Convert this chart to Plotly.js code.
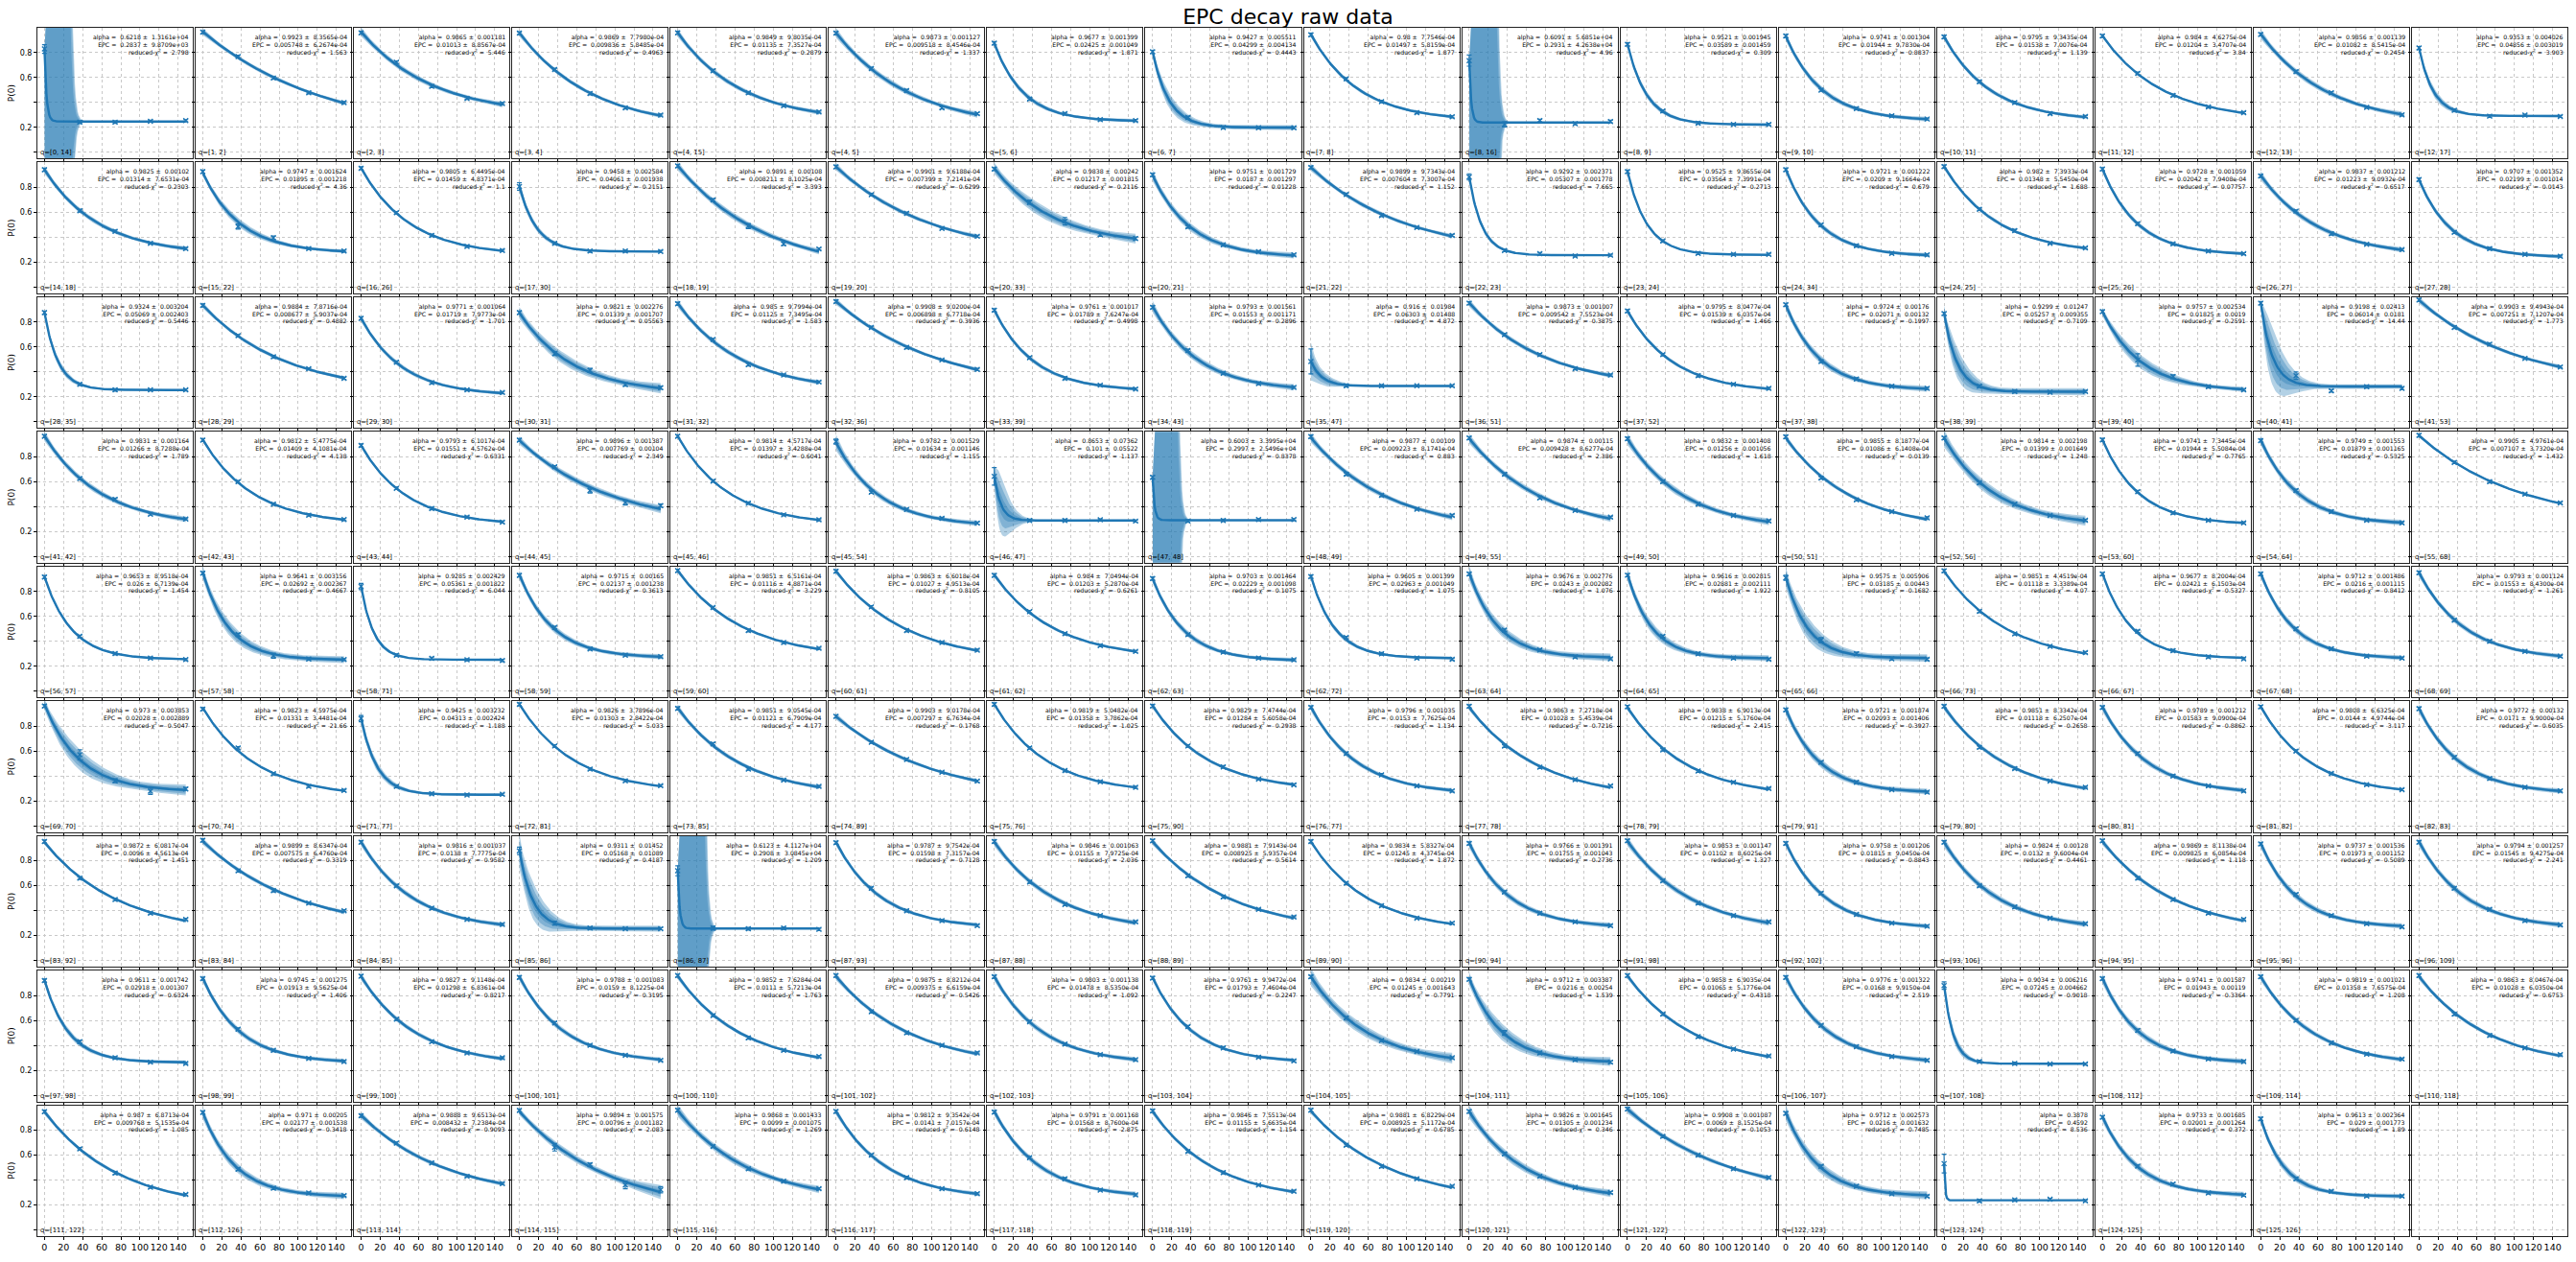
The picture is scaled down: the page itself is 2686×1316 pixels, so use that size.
<!DOCTYPE html>
<html>
<head>
<meta charset="utf-8">
<script src="https://cdn.plot.ly/plotly-3.0.1.min.js"></script>
<style>
  body { margin: 0; background: #fff; }
  #chart { width: 2686px; height: 1316px; }
</style>
</head>
<body>
<div id="chart"></div>
<script>
// --- data, one entry per panel (16 x 9 grid, last one empty) ---
const qLabels = [
  '[0, 14]','[1, 2]','[2, 3]','[3, 4]','[4, 15]','[4, 5]','[5, 6]','[6, 7]','[7, 8]','[8, 16]','[8, 9]','[9, 10]','[10, 11]','[11, 12]','[12, 13]','[12, 17]',
  '[14, 18]','[15, 22]','[16, 26]','[17, 30]','[18, 19]','[19, 20]','[20, 33]','[20, 21]','[21, 22]','[22, 23]','[23, 24]','[24, 34]','[24, 25]','[25, 26]','[26, 27]','[27, 28]',
  '[28, 35]','[28, 29]','[29, 30]','[30, 31]','[31, 32]','[32, 36]','[33, 39]','[34, 43]','[35, 47]','[36, 51]','[37, 52]','[37, 38]','[38, 39]','[39, 40]','[40, 41]','[41, 53]',
  '[41, 42]','[42, 43]','[43, 44]','[44, 45]','[45, 46]','[45, 54]','[46, 47]','[47, 48]','[48, 49]','[49, 55]','[49, 50]','[50, 51]','[52, 56]','[53, 60]','[54, 64]','[55, 68]',
  '[56, 57]','[57, 58]','[58, 71]','[58, 59]','[59, 60]','[60, 61]','[61, 62]','[62, 63]','[62, 72]','[63, 64]','[64, 65]','[65, 66]','[66, 73]','[66, 67]','[67, 68]','[68, 69]',
  '[69, 70]','[70, 74]','[71, 77]','[72, 81]','[73, 85]','[74, 89]','[75, 76]','[75, 90]','[76, 77]','[77, 78]','[78, 79]','[79, 91]','[79, 80]','[80, 81]','[81, 82]','[82, 83]',
  '[83, 92]','[83, 84]','[84, 85]','[85, 86]','[86, 87]','[87, 93]','[87, 88]','[88, 89]','[89, 90]','[90, 94]','[91, 98]','[92, 102]','[93, 106]','[94, 95]','[95, 96]','[96, 109]',
  '[97, 98]','[98, 99]','[99, 100]','[100, 101]','[100, 110]','[101, 102]','[102, 103]','[103, 104]','[104, 105]','[104, 111]','[105, 106]','[106, 107]','[107, 108]','[108, 112]','[109, 114]','[110, 118]',
  '[111, 122]','[112, 126]','[113, 114]','[114, 115]','[115, 116]','[116, 117]','[117, 118]','[118, 119]','[119, 120]','[120, 121]','[121, 122]','[122, 123]','[123, 124]','[124, 125]','[125, 126]',''
];

const alphaTxt = [
  '0.6218','0.9923','0.9865','0.9869','0.9849','0.9873','0.9677','0.9427','0.98','0.6091','0.9521','0.9741','0.9795','0.984','0.9856','0.9353',
  '0.9825','0.9747','0.9805','0.9458','0.9891','0.9901','0.9838','0.9751','0.9899','0.9292','0.9525','0.9721','0.982','0.9728','0.9837','0.9707',
  '0.9324','0.9884','0.9771','0.9821','0.985','0.9908','0.9761','0.9793','0.916','0.9873','0.9795','0.9724','0.9299','0.9757','0.9198','0.9903',
  '0.9831','0.9812','0.9793','0.9896','0.9814','0.9782','0.8653','0.6003','0.9877','0.9874','0.9832','0.9855','0.9814','0.9741','0.9749','0.9905',
  '0.9653','0.9641','0.9285','0.9715','0.9851','0.9863','0.984','0.9703','0.9605','0.9676','0.9616','0.9575','0.9851','0.9677','0.9712','0.9793',
  '0.973','0.9823','0.9425','0.9826','0.9851','0.9903','0.9819','0.9829','0.9796','0.9863','0.9838','0.9721','0.9851','0.9789','0.9808','0.9772',
  '0.9872','0.9899','0.9816','0.9311','0.6123','0.9787','0.9846','0.9881','0.9834','0.9766','0.9853','0.9758','0.9824','0.9869','0.9737','0.9794',
  '0.9611','0.9745','0.9827','0.9788','0.9852','0.9875','0.9803','0.9761','0.9834','0.9712','0.9858','0.9776','0.9034','0.9741','0.9819','0.9863',
  '0.987','0.971','0.9888','0.9894','0.9868','0.9812','0.9791','0.9846','0.9881','0.9826','0.9908','0.9712','0.3878','0.9733','0.9613',''
];

const alphaErrTxt = [
  '1.3161e+04','8.3565e-04','0.001181','7.7980e-04','9.8035e-04','0.001127','0.001399','0.005511','7.7546e-04','5.6851e+04','0.001945','0.001304','9.3435e-04','4.6275e-04','0.001139','0.004026',
  '0.00102','0.001624','6.4495e-04','0.002584','0.00108','9.6188e-04','0.00242','0.001729','9.7343e-04','0.002371','9.8655e-04','0.001222','7.3933e-04','0.001059','0.001212','0.001352',
  '0.003204','7.8716e-04','0.001064','0.002276','9.7994e-04','9.0200e-04','0.001017','0.001561','0.01984','0.001007','8.0477e-04','0.00176','0.01247','0.002534','0.02413','9.4943e-04',
  '0.001164','5.4775e-04','6.1017e-04','0.001387','4.5717e-04','0.001529','0.07362','3.3995e+04','0.00109','0.00115','0.001408','8.1877e-04','0.002198','7.3445e-04','0.001553','4.9761e-04',
  '8.9518e-04','0.003156','0.002429','0.00165','6.5161e-04','6.6018e-04','7.0494e-04','0.001464','0.001399','0.002776','0.002815','0.005906','4.4519e-04','8.2004e-04','0.001486','0.001124',
  '0.003853','4.5975e-04','0.003232','3.7896e-04','9.0545e-04','9.0178e-04','5.0482e-04','7.4744e-04','0.001035','7.2718e-04','6.9013e-04','0.001874','8.3342e-04','0.001212','6.6325e-04','0.00132',
  '6.0817e-04','8.6347e-04','0.001037','0.01452','4.1127e+04','9.7542e-04','0.001063','7.9143e-04','5.8327e-04','0.001391','0.001147','0.001206','0.00128','8.1138e-04','0.001536','0.001257',
  '0.001742','0.001275','9.1148e-04','0.001083','7.6284e-04','8.8212e-04','0.001138','9.9472e-04','0.00219','0.003387','6.9035e-04','0.001322','0.006216','0.001587','0.001021','8.0467e-04',
  '6.8713e-04','0.00205','9.6513e-04','0.001575','0.001433','9.3542e-04','0.001168','7.5513e-04','6.8229e-04','0.001645','0.001087','0.002573','','0.001685','0.002364',''
];

const epcTxt = [
  '0.2837','0.005748','0.01013','0.009836','0.01135','0.009518','0.02425','0.04299','0.01497','0.2931','0.03589','0.01944','0.01538','0.01204','0.01082','0.04856',
  '0.01314','0.01895','0.01459','0.04061','0.008211','0.007399','0.01217','0.0187','0.007604','0.05307','0.03564','0.0209','0.01348','0.02042','0.01223','0.02199',
  '0.05069','0.008677','0.01719','0.01339','0.01125','0.006898','0.01789','0.01553','0.06303','0.009542','0.01539','0.02071','0.05257','0.01825','0.06014','0.007251',
  '0.01266','0.01409','0.01551','0.007769','0.01397','0.01634','0.101','0.2997','0.009223','0.009428','0.01256','0.01086','0.01399','0.01944','0.01879','0.007107',
  '0.026','0.02692','0.05361','0.02137','0.01116','0.01027','0.01203','0.02229','0.02963','0.0243','0.02881','0.03185','0.01118','0.02421','0.0216','0.01553',
  '0.02028','0.01331','0.04313','0.01303','0.01121','0.007297','0.01358','0.01284','0.0153','0.01028','0.01215','0.02093','0.01118','0.01583','0.0144','0.0171',
  '0.0096','0.007575','0.0138','0.05168','0.2908','0.01598','0.01155','0.008925','0.01245','0.01755','0.01102','0.01815','0.0132','0.009825','0.01973','0.01545',
  '0.02918','0.01913','0.01298','0.0159','0.0111','0.009375','0.01478','0.01793','0.01245','0.0216','0.01065','0.0168','0.07245','0.01943','0.01358','0.01028',
  '0.009768','0.02177','0.008432','0.00796','0.0099','0.0141','0.01568','0.01155','0.008925','0.01305','0.0069','0.0216','0.4592','0.02001','0.029',''
];

const epcErrTxt = [
  '9.8709e+03','6.2674e-04','8.8567e-04','5.8485e-04','7.3527e-04','8.4546e-04','0.001049','0.004134','5.8159e-04','4.2638e+04','0.001459','9.7830e-04','7.0076e-04','3.4707e-04','8.5415e-04','0.003019',
  '7.6531e-04','0.001218','4.8371e-04','0.001938','8.1025e-04','7.2141e-04','0.001815','0.001297','7.3007e-04','0.001778','7.3991e-04','9.1664e-04','5.5450e-04','7.9408e-04','9.0932e-04','0.001014',
  '0.002403','5.9037e-04','7.9773e-04','0.001707','7.3495e-04','6.7718e-04','7.6247e-04','0.001171','0.01488','7.5523e-04','6.0357e-04','0.00132','0.009355','0.0019','0.0181','7.1207e-04',
  '8.7288e-04','4.1081e-04','4.5762e-04','0.00104','3.4288e-04','0.001146','0.05522','2.5496e+04','8.1741e-04','8.6277e-04','0.001056','6.1408e-04','0.001649','5.5084e-04','0.001165','3.7320e-04',
  '6.7139e-04','0.002367','0.001822','0.001238','4.8871e-04','4.9513e-04','5.2870e-04','0.001098','0.001049','0.002082','0.002111','0.00443','3.3389e-04','6.1503e-04','0.001115','8.4300e-04',
  '0.002889','3.4481e-04','0.002424','2.8422e-04','6.7909e-04','6.7634e-04','3.7862e-04','5.6058e-04','7.7625e-04','5.4539e-04','5.1760e-04','0.001406','6.2507e-04','9.0900e-04','4.9744e-04','9.9000e-04',
  '4.5613e-04','6.4760e-04','7.7775e-04','0.01089','3.0845e+04','7.3157e-04','7.9725e-04','5.9357e-04','4.3745e-04','0.001043','8.6025e-04','9.0450e-04','9.6004e-04','6.0854e-04','0.001152','9.4275e-04',
  '0.001307','9.5625e-04','6.8361e-04','8.1225e-04','5.7213e-04','6.6159e-04','8.5350e-04','7.4604e-04','0.001643','0.00254','5.1776e-04','9.9150e-04','0.004662','0.00119','7.6575e-04','6.0350e-04',
  '5.1535e-04','0.001538','7.2384e-04','0.001182','0.001075','7.0157e-04','8.7600e-04','5.6635e-04','5.1172e-04','0.001234','8.1525e-04','0.001632','','0.001264','0.001773',''
];

const chi2Txt = [
  '2.798','1.563','5.446','0.4963','0.2879','1.337','1.871','0.4443','1.877','4.96','0.309','0.8837','1.139','3.84','0.2454','3.903',
  '0.2303','4.36','1.1','0.2151','3.393','0.6299','0.2116','0.01228','1.152','7.665','0.2713','0.679','1.688','0.07757','0.6517','0.0143',
  '0.5446','0.4882','1.701','0.05563','1.583','0.3936','0.4998','0.2896','4.872','0.3875','1.466','0.1997','0.7109','0.2591','14.44','1.773',
  '1.789','4.138','0.6331','2.349','0.6041','1.155','1.137','0.8378','0.883','2.386','1.618','0.0139','1.248','0.7765','0.5325','1.432',
  '1.454','0.4667','6.044','0.3613','3.229','0.8105','0.6261','0.1075','1.075','1.076','1.922','0.1682','4.07','0.5327','0.8412','1.261',
  '0.5047','21.66','1.188','5.033','4.177','0.1768','1.025','0.2938','1.134','0.7216','2.415','0.3927','0.2658','0.8862','3.117','0.6035',
  '1.451','0.3319','0.9582','0.4187','1.209','0.7128','2.036','0.5614','1.872','0.2736','1.327','0.8843','0.4461','1.118','0.5089','2.241',
  '0.6324','1.406','0.8217','0.3195','1.763','0.5426','1.092','0.2247','0.7791','1.539','0.4318','2.519','0.9018','0.3364','1.208','0.6753',
  '1.085','0.3418','0.9093','2.083','1.269','0.6148','2.875','1.154','0.6785','0.346','0.1053','0.7485','8.536','0.372','1.89',''
];

// sequence lengths of the raw data and the P(0) values read at each of them
const seqLengths = [0, 37, 74, 111, 148];
const pointY = [
  [0.83,0.243,0.243,0.25,0.255],[0.965,0.77,0.597,0.478,0.40],[0.96,0.724,0.53,0.433,0.392],[0.957,0.666,0.473,0.357,0.30],
  [0.96,0.656,0.478,0.375,0.324],[0.957,0.673,0.496,0.357,0.311],[0.876,0.428,0.311,0.263,0.256],[0.807,0.281,0.20,0.197,0.197],
  [0.944,0.59,0.408,0.319,0.286],[0.737,0.225,0.256,0.23,0.248],[0.868,0.332,0.235,0.225,0.225],[0.934,0.50,0.352,0.294,0.268],
  [0.927,0.567,0.40,0.311,0.289],[0.934,0.635,0.458,0.365,0.319],[0.947,0.648,0.478,0.362,0.301],[0.838,0.339,0.291,0.299,0.289],

  [0.942,0.613,0.448,0.352,0.309],[0.927,0.486,0.395,0.309,0.289],[0.954,0.597,0.415,0.327,0.294],[0.808,0.352,0.289,0.289,0.286],
  [0.972,0.70,0.49,0.347,0.306],[0.965,0.742,0.592,0.471,0.408],[0.947,0.681,0.529,0.42,0.39],[0.901,0.484,0.339,0.284,0.258],
  [0.96,0.744,0.575,0.478,0.415],[0.884,0.294,0.268,0.25,0.256],[0.927,0.37,0.271,0.263,0.263],[0.942,0.499,0.332,0.271,0.258],
  [0.967,0.625,0.453,0.352,0.314],[0.947,0.509,0.347,0.289,0.268],[0.891,0.61,0.428,0.344,0.301],[0.863,0.44,0.309,0.263,0.248],

  [0.876,0.301,0.256,0.256,0.256],[0.934,0.691,0.522,0.425,0.349],[0.83,0.478,0.314,0.256,0.235],[0.876,0.547,0.413,0.299,0.273],
  [0.947,0.66,0.458,0.375,0.319],[0.965,0.757,0.597,0.496,0.42],[0.896,0.514,0.349,0.294,0.263],[0.919,0.572,0.39,0.306,0.276],
  [0.484,0.289,0.289,0.289,0.289],[0.952,0.699,0.539,0.425,0.375],[0.889,0.539,0.37,0.301,0.268],[0.939,0.484,0.344,0.286,0.268],
  [0.868,0.286,0.243,0.238,0.243],[0.884,0.496,0.362,0.281,0.256],[0.952,0.37,0.248,0.281,0.268],[0.977,0.757,0.623,0.509,0.44],

  [0.965,0.625,0.458,0.339,0.301],[0.934,0.60,0.42,0.332,0.296],[0.891,0.547,0.385,0.316,0.276],[0.934,0.719,0.529,0.433,0.408],
  [0.965,0.605,0.428,0.334,0.294],[0.922,0.516,0.377,0.306,0.268],[0.643,0.289,0.289,0.294,0.284],[0.635,0.284,0.289,0.296,0.296],
  [0.962,0.66,0.49,0.38,0.33],[0.95,0.66,0.47,0.37,0.315],[0.945,0.60,0.42,0.33,0.285],[0.96,0.63,0.455,0.36,0.31],
  [0.95,0.59,0.42,0.33,0.29],[0.935,0.52,0.35,0.29,0.27],[0.93,0.53,0.36,0.29,0.27],[0.972,0.755,0.60,0.50,0.43],

  [0.916,0.44,0.301,0.266,0.253],[0.947,0.453,0.284,0.258,0.253],[0.84,0.289,0.263,0.251,0.246],[0.929,0.511,0.339,0.289,0.276],
  [0.967,0.671,0.486,0.39,0.344],[0.962,0.676,0.486,0.39,0.329],[0.929,0.638,0.461,0.365,0.319],[0.904,0.453,0.314,0.266,0.251],
  [0.92,0.43,0.30,0.265,0.255],[0.94,0.49,0.33,0.275,0.26],[0.93,0.44,0.30,0.265,0.255],[0.91,0.41,0.30,0.26,0.255],
  [0.965,0.64,0.46,0.36,0.31],[0.94,0.48,0.325,0.275,0.26],[0.94,0.50,0.34,0.28,0.265],[0.95,0.57,0.40,0.32,0.28],

  [0.962,0.57,0.362,0.278,0.296],[0.937,0.625,0.418,0.316,0.284],[0.861,0.316,0.258,0.248,0.253],[0.975,0.641,0.456,0.362,0.322],
  [0.942,0.658,0.456,0.367,0.316],[0.878,0.671,0.532,0.43,0.359],[0.975,0.625,0.443,0.354,0.309],[0.962,0.641,0.473,0.375,0.329],
  [0.95,0.58,0.41,0.32,0.28],[0.96,0.64,0.47,0.37,0.32],[0.955,0.61,0.44,0.35,0.30],[0.93,0.51,0.35,0.29,0.27],
  [0.96,0.63,0.46,0.36,0.31],[0.95,0.58,0.40,0.32,0.28],[0.955,0.60,0.42,0.33,0.29],[0.94,0.55,0.38,0.31,0.28],

  [0.955,0.66,0.49,0.38,0.33],[0.965,0.72,0.56,0.46,0.40],[0.95,0.60,0.42,0.33,0.29],[0.88,0.30,0.26,0.255,0.255],
  [0.72,0.26,0.255,0.26,0.25],[0.945,0.58,0.40,0.32,0.28],[0.955,0.63,0.45,0.36,0.31],[0.96,0.68,0.51,0.41,0.35],
  [0.955,0.62,0.44,0.34,0.30],[0.94,0.55,0.38,0.31,0.28],[0.96,0.64,0.46,0.36,0.31],[0.94,0.54,0.37,0.30,0.275],
  [0.95,0.60,0.43,0.34,0.295],[0.96,0.66,0.49,0.38,0.33],[0.935,0.53,0.36,0.295,0.27],[0.95,0.58,0.41,0.32,0.285],

  [0.92,0.43,0.30,0.265,0.255],[0.935,0.53,0.36,0.295,0.27],[0.955,0.61,0.43,0.34,0.30],[0.945,0.58,0.40,0.32,0.28],
  [0.96,0.64,0.46,0.36,0.31],[0.96,0.67,0.50,0.40,0.34],[0.95,0.59,0.41,0.325,0.285],[0.94,0.55,0.38,0.305,0.275],
  [0.95,0.62,0.44,0.35,0.30],[0.93,0.50,0.34,0.285,0.265],[0.96,0.65,0.47,0.37,0.315],[0.945,0.56,0.39,0.31,0.28],
  [0.88,0.27,0.255,0.25,0.25],[0.935,0.52,0.355,0.29,0.27],[0.95,0.60,0.42,0.33,0.29],[0.96,0.65,0.48,0.38,0.325],

  [0.949,0.651,0.456,0.342,0.284],[0.942,0.486,0.334,0.296,0.276],[0.916,0.696,0.537,0.43,0.372],[0.959,0.663,0.524,0.36,0.322],
  [0.96,0.67,0.49,0.39,0.33],[0.95,0.60,0.42,0.33,0.29],[0.945,0.58,0.41,0.32,0.28],[0.955,0.63,0.46,0.36,0.31],
  [0.96,0.68,0.51,0.41,0.35],[0.95,0.61,0.43,0.34,0.30],[0.97,0.75,0.60,0.49,0.42],[0.935,0.51,0.35,0.29,0.27],
  [0.532,0.233,0.24,0.246,0.233],[0.904,0.511,0.367,0.296,0.278],[0.891,0.41,0.309,0.271,0.271],null
];

// error bars: a common size, and the panels where they are visibly larger
const errCommon = [0.012, 0.01, 0.01, 0.008, 0.008];
const errLarge = {
  '[0, 14]': [0.035,0.01,0.01,0.008,0.008], '[8, 16]': [0.045,0.02,0.01,0.008,0.01],
  '[15, 22]': [0.012,0.02,0.015,0.008,0.008], '[17, 30]': [0.03,0.01,0.01,0.008,0.008],
  '[18, 19]': [0.012,0.01,0.02,0.012,0.008], '[20, 33]': [0.012,0.015,0.03,0.012,0.012],
  '[22, 23]': [0.025,0.01,0.01,0.008,0.008], '[30, 31]': [0.012,0.015,0.015,0.012,0.012],
  '[35, 47]': [0.1,0.01,0.01,0.008,0.008], '[39, 40]': [0.012,0.05,0.015,0.01,0.008],
  '[40, 41]': [0.012,0.03,0.01,0.01,0.01], '[44, 45]': [0.012,0.01,0.02,0.02,0.012],
  '[45, 54]': [0.02,0.01,0.01,0.008,0.008], '[46, 47]': [0.07,0.01,0.01,0.008,0.008],
  '[57, 58]': [0.012,0.012,0.02,0.008,0.008], '[58, 71]': [0.025,0.01,0.01,0.008,0.008],
  '[65, 66]': [0.02,0.02,0.012,0.01,0.01], '[69, 70]': [0.012,0.04,0.015,0.025,0.012],
  '[71, 77]': [0.025,0.01,0.01,0.008,0.008], '[85, 86]': [0.03,0.015,0.01,0.008,0.008],
  '[86, 87]': [0.04,0.015,0.01,0.01,0.01], '[104, 111]': [0.012,0.02,0.012,0.01,0.01],
  '[107, 108]': [0.03,0.01,0.01,0.008,0.008],
  '[114, 115]': [0.012,0.03,0.012,0.03,0.025], '[123, 124]': [0.075,0.01,0.01,0.008,0.008]
};

// --- figure geometry ---
const nCols = 16, nRows = 9;
const figW = 2686, figH = 1316;
const mL = 39, mR = 9, mT = 29, mB = 27;
const plotW = figW - mL - mR, plotH = figH - mT - mB;
const gapX = 3, gapY = 4;
const cellW = (plotW + gapX) / nCols, cellH = (plotH + gapY) / nRows;

const blue = '#1f77b4';
const band = 'rgba(31,119,180,0.34)';
const font = 'DejaVu Sans';

const tFit = [];
for (let t = 0; t <= seqLengths[seqLengths.length - 1]; t += 1) tFit.push(t);

// least squares for A and B in P = A*alpha^t + B, alpha taken from the panel text
function fitAB(alpha, ys) {
  const u = seqLengths.map(t => Math.pow(alpha, t));
  const n = u.length;
  let su = 0, suu = 0, sy = 0, suy = 0;
  for (let i = 0; i < n; i++) { su += u[i]; suu += u[i] * u[i]; sy += ys[i]; suy += u[i] * ys[i]; }
  const A = (n * suy - su * sy) / (n * suu - su * su);
  return { A: A, B: (sy - A * su) / n };
}

function inv3(m) {
  const [a, b, c] = m[0], [d, e, f] = m[1], [g, h, k] = m[2];
  const det = a * (e * k - f * h) - b * (d * k - f * g) + c * (d * h - e * g);
  if (!isFinite(det) || Math.abs(det) < 1e-300) return null;
  return [
    [(e * k - f * h) / det, (c * h - b * k) / det, (b * f - c * e) / det],
    [(f * g - d * k) / det, (a * k - c * g) / det, (c * d - a * f) / det],
    [(d * h - e * g) / det, (b * g - a * h) / det, (a * e - b * d) / det]
  ];
}

// 1-sigma width of the fit along t; covariance of (A, alpha, B) scaled to the quoted alpha error
function fitSigma(alpha, sAlpha, A, errs) {
  const grad = t => [Math.pow(alpha, t), A * t * Math.pow(alpha, t - 1), 1];
  const alphaOnly = tFit.map(t => Math.abs(A * t * Math.pow(alpha, t - 1)) * sAlpha);
  if (sAlpha > 1) return alphaOnly;
  const M = [[0, 0, 0], [0, 0, 0], [0, 0, 0]];
  seqLengths.forEach((t, i) => {
    const g = grad(t), w = 1 / (errs[i] * errs[i]);
    for (let p = 0; p < 3; p++) for (let q = 0; q < 3; q++) M[p][q] += w * g[p] * g[q];
  });
  const C = inv3(M);
  if (!C || !(C[1][1] > 0)) return alphaOnly;
  const s = sAlpha * sAlpha / C[1][1];
  return tFit.map(t => {
    const g = grad(t);
    let v = 0;
    for (let p = 0; p < 3; p++) for (let q = 0; q < 3; q++) v += g[p] * C[p][q] * g[q];
    return Math.sqrt(Math.max(v * s, 0));
  });
}

const clamp = v => Math.max(-3, Math.min(4, v));

const data = [];
const annotations = [];
const layout = {
  width: figW, height: figH,
  margin: { l: mL, r: mR, t: mT, b: mB, pad: 0 },
  paper_bgcolor: '#fff', plot_bgcolor: '#fff',
  showlegend: false,
  font: { family: font, color: '#000' },
  title: {
    text: 'EPC decay raw data',
    font: { family: font, size: 22, color: '#000' },
    x: 0.5, xanchor: 'center', y: 1 - 17 / figH, yanchor: 'middle'
  }
};

for (let i = 0; i < nCols * nRows; i++) {
  const r = Math.floor(i / nCols), c = i % nCols;
  const n = i + 1;
  const sfx = n === 1 ? '' : String(n);
  const x0 = c * cellW, x1 = x0 + cellW - gapX;
  const y0 = r * cellH, y1 = y0 + cellH - gapY;

  layout['xaxis' + sfx] = {
    domain: [x0 / plotW, x1 / plotW],
    anchor: 'y' + sfx,
    range: [-7.4, 155.4],
    tickvals: [0, 20, 40, 60, 80, 100, 120, 140],
    showticklabels: r === nRows - 1,
    tickangle: 0,
    tickfont: { family: font, size: 9.5 },
    ticks: 'outside', ticklen: 3, tickwidth: 1, tickcolor: '#000',
    showgrid: true, gridcolor: '#c9c9c9', griddash: 'dot', gridwidth: 1,
    zeroline: false, showline: true, mirror: true, linecolor: '#222', linewidth: 1
  };
  layout['yaxis' + sfx] = {
    domain: [1 - y1 / plotH, 1 - y0 / plotH],
    anchor: 'x' + sfx,
    range: [-0.05, 1.0],
    tickvals: [0, 0.2, 0.4, 0.6, 0.8],
    ticktext: ['', '0.2', '', '0.6', '0.8'],
    showticklabels: c === 0,
    tickfont: { family: font, size: 8 },
    ticks: 'outside', ticklen: 3, tickwidth: 1, tickcolor: '#000',
    showgrid: true, gridcolor: '#c9c9c9', griddash: 'dot', gridwidth: 1,
    zeroline: false, showline: true, mirror: true, linecolor: '#222', linewidth: 1
  };

  // keeps every panel's axes drawn, the empty one included
  data.push({ x: [null], y: [null], xaxis: 'x' + sfx, yaxis: 'y' + sfx, type: 'scatter', mode: 'lines', hoverinfo: 'skip' });

  if (c === 0) {
    annotations.push({
      text: 'P(0)', textangle: -90, showarrow: false,
      xref: 'paper', yref: 'paper',
      x: (12 - mL) / plotW, y: 1 - (y0 + y1) / 2 / plotH,
      xanchor: 'center', yanchor: 'middle',
      font: { family: font, size: 9 }
    });
  }

  const ys = pointY[i];
  if (!ys) continue;

  const errs = errLarge[qLabels[i]] || errCommon;
  const alpha = parseFloat(alphaTxt[i]);
  const sAlpha = alphaErrTxt[i] ? parseFloat(alphaErrTxt[i]) : 0;
  const ab = fitAB(alpha, ys);
  const yFit = tFit.map(t => ab.A * Math.pow(alpha, t) + ab.B);

  // nested uncertainty bands of the fit
  if (sAlpha > 0) {
    const sig = fitSigma(alpha, sAlpha, ab.A, errs);
    [3, 2, 1].forEach(k => {
      const up = tFit.map((t, j) => clamp(yFit[j] + k * sig[j]));
      const lo = tFit.map((t, j) => clamp(yFit[j] - k * sig[j]));
      data.push({
        x: tFit.concat(tFit.slice().reverse()),
        y: up.concat(lo.reverse()),
        xaxis: 'x' + sfx, yaxis: 'y' + sfx,
        type: 'scatter', mode: 'lines', fill: 'toself',
        fillcolor: band, line: { width: 0 }, hoverinfo: 'skip'
      });
    });
  }

  // fitted decay
  data.push({
    x: tFit, y: yFit,
    xaxis: 'x' + sfx, yaxis: 'y' + sfx,
    type: 'scatter', mode: 'lines',
    line: { color: blue, width: 2.4 }, hoverinfo: 'skip'
  });

  // raw points with error bars
  data.push({
    x: seqLengths, y: ys,
    xaxis: 'x' + sfx, yaxis: 'y' + sfx,
    type: 'scatter', mode: 'markers',
    marker: { symbol: 'x-thin', size: 5, color: blue, line: { color: blue, width: 1.4 } },
    error_y: { type: 'data', array: errs, color: blue, thickness: 1.2, width: 2.5 },
    hoverinfo: 'skip'
  });

  const xd = 'x' + sfx + ' domain', yd = 'y' + sfx + ' domain';
  const aLine = sAlpha ? `alpha =  ${alphaTxt[i]} ±  ${alphaErrTxt[i]}` : `alpha =  ${alphaTxt[i]}`;
  const eLine = epcErrTxt[i] ? `EPC =  ${epcTxt[i]} ±  ${epcErrTxt[i]}` : `EPC =  ${epcTxt[i]}`;
  annotations.push({
    text: aLine + '<br>' + eLine, showarrow: false, align: 'right',
    xref: xd, yref: yd, x: 0.985, y: 1, xanchor: 'right', yanchor: 'top', yshift: -4,
    font: { family: font, size: 6.2 }
  });
  annotations.push({
    text: `reduced-χ<sup>2</sup> =  ${chi2Txt[i]}`, showarrow: false, align: 'right',
    xref: xd, yref: yd, x: 0.985, y: 1, xanchor: 'right', yanchor: 'middle', yshift: -25,
    font: { family: font, size: 6.2 }
  });
  annotations.push({
    text: 'q=' + qLabels[i], showarrow: false,
    xref: xd, yref: yd, x: 0, y: 0, xanchor: 'left', yanchor: 'bottom', xshift: 1, yshift: 0,
    font: { family: font, size: 6.8 }
  });
}

layout.annotations = annotations;

Plotly.newPlot('chart', data, layout, { staticPlot: true, displayModeBar: false });
</script>
</body>
</html>
